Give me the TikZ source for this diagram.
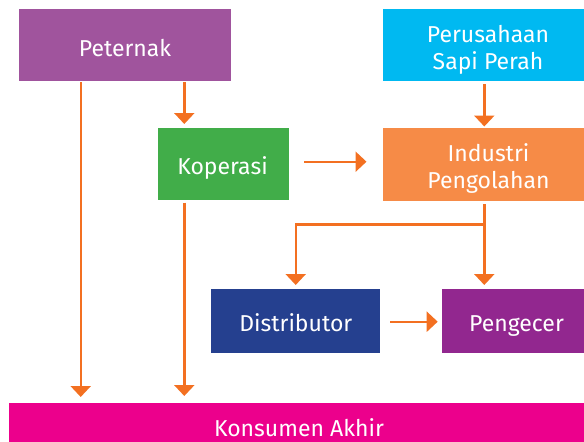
\documentclass[tikz,border=0pt]{standalone}
\usepackage{fontspec}
\setmainfont{Fira Sans}
\usetikzlibrary{arrows.meta}

\definecolor{cPet}{HTML}{A0549D}
\definecolor{cPsp}{HTML}{00B9F1}
\definecolor{cKop}{HTML}{41AD49}
\definecolor{cInd}{HTML}{F68B47}
\definecolor{cDis}{HTML}{25408F}
\definecolor{cPen}{HTML}{92278F}
\definecolor{cKon}{HTML}{EC008C}
\definecolor{cArr}{HTML}{F37021}

\tikzset{
  box/.style={draw=none, inner sep=0pt, anchor=north west, outer sep=0pt},
  lbl/.style={text=white, inner sep=0pt, outer sep=0pt, align=center,
    font=\fontsize{23}{27}\selectfont},
  arr/.style={draw=cArr, line width=2.4pt, line join=miter,
    -{Triangle[length=11pt,width=20pt]}},
}

\begin{document}
\begin{tikzpicture}[x=1pt, y=-1pt]
\useasboundingbox (0,0) rectangle (584,442);
\clip (0,0) rectangle (584,442);

% boxes
\node[box, fill=cPet, minimum width=212pt, minimum height=72pt] (pet) at (19,9) {};
\node[box, fill=cPsp, minimum width=211pt, minimum height=72pt] (psp) at (383,9) {};
\node[box, fill=cKop, minimum width=131pt, minimum height=72pt] (kop) at (158,128) {};
\node[box, fill=cInd, minimum width=211pt, minimum height=73pt] (ind) at (383,128) {};
\node[box, fill=cDis, minimum width=169pt, minimum height=64pt] (dis) at (211,289) {};
\node[box, fill=cPen, minimum width=149pt, minimum height=64pt] (pen) at (442,289) {};
\node[box, fill=cKon, minimum width=580pt, minimum height=60pt] (kon) at (9,403) {};

% labels (anchored at the baseline of the last line)
\node[lbl, anchor=base] (tPet) at (125,56) {Peternak};
\node[lbl, anchor=base] (tPsp) at (488,69) {Perusahaan\\Sapi Perah};
\node[lbl, anchor=base] (tKop) at (222.5,174) {Koperasi};
\node[lbl, anchor=base] (tInd) at (488.5,188.5) {Industri\\Pengolahan};
\node[lbl, anchor=base] (tDis) at (295.8,331) {Distributor};
\node[lbl, anchor=base] (tPen) at (516.5,331) {Pengecer};
\node[lbl, anchor=base] (tKon) at (299,436) {Konsumen Akhir};

% connectors
\draw[arr] ([xshift=61.7pt,yshift=-1pt]pet.south west) -- ([xshift=71.7pt,yshift=6pt]kon.north west);
\draw[arr] ([xshift=165.3pt,yshift=-1pt]pet.south west) -- ([xshift=26.3pt,yshift=4pt]kop.north west);
\draw[arr] ([xshift=26.3pt,yshift=-2.7pt]kop.south west) -- ([xshift=175.3pt,yshift=7pt]kon.north west);
\draw[arr] ([xshift=15pt,yshift=-33.7pt]kop.north east) -- ([xshift=-16.5pt,yshift=-33.7pt]ind.north west);
\draw[arr] ([xshift=101.3pt,yshift=-3pt]psp.south west) -- ([xshift=101.3pt,yshift=1.5pt]ind.north west);
\draw[arr] ([xshift=101.3pt,yshift=-3pt]ind.south west) -- ([xshift=42.3pt,yshift=4pt]pen.north west);
\draw[arr] ([xshift=101.3pt,yshift=-23.3pt]ind.south west) -| ([xshift=84.7pt,yshift=4pt]dis.north west);
\draw[arr] ([xshift=10pt,yshift=-32.7pt]dis.north east) -- ([xshift=-4.3pt,yshift=-32.7pt]pen.north west);
\end{tikzpicture}
\end{document}
